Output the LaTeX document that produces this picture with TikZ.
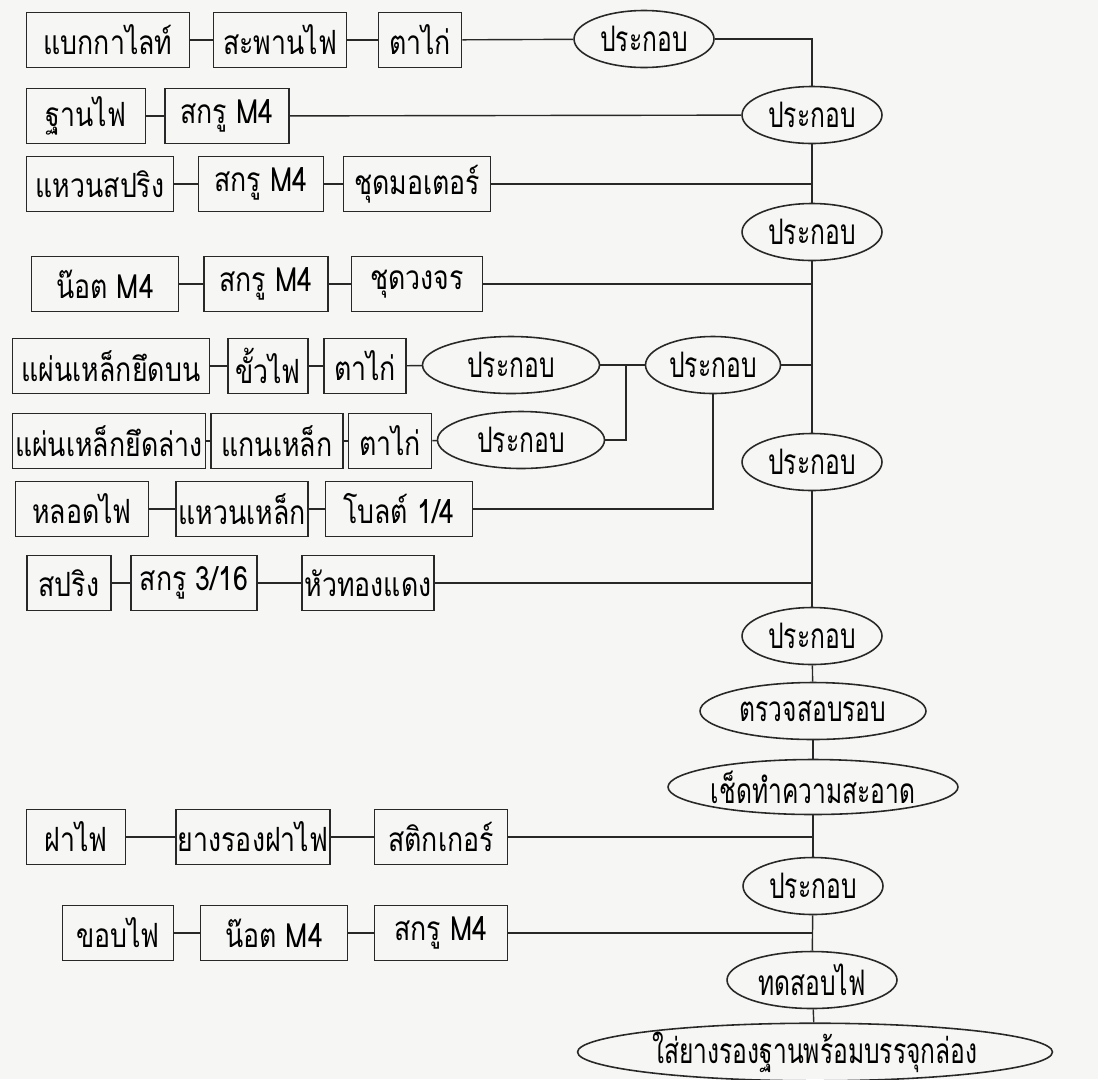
\documentclass[tikz,border=0pt]{standalone}
\usepackage{fontspec}
\usepackage{tikz}
\usetikzlibrary{shapes.geometric, positioning, calc}
\newfontfamily\thaifont[Script=Thai, FakeStretch=0.8]{Loma}
\newfontfamily\thainarrow[Script=Thai, FakeStretch=0.7]{Loma}
\definecolor{mydark}{RGB}{40,40,40}
\definecolor{mypaper}{RGB}{246,246,244}
\tikzset{
  part/.style={rectangle, draw=mydark, inner sep=0pt,
    minimum height=1.1cm, font=\thaifont\fontsize{19}{21}\selectfont,
    line width=0.9pt},
  asm/.style={ellipse, draw=mydark, inner sep=0pt,
    minimum height=1.14cm, minimum width=2.8cm,
    font=\thainarrow\fontsize{20}{22}\selectfont, line width=0.9pt},
  link/.style={line width=0.8pt, color=mydark}
}
\begin{document}
\begin{tikzpicture}[x=0.02cm, y=-0.02cm]
  \fill[mypaper] (0,0) rectangle (1098,1079);
  \useasboundingbox (0,0) rectangle (1098,1079);

  % main assembly line
  \node[asm] (e1) at (644, 39) {ประกอบ};
  \node[asm] (e2) at (812, 115) {ประกอบ};
  \node[asm] (e3) at (812, 232) {ประกอบ};
  \node[asm] (e4) at (812, 462) {ประกอบ};
  \node[asm] (e8) at (812, 636) {ประกอบ};
  \node[asm, minimum width=4.52cm] (chk) at (813, 711) {ตรวจสอบรอบ};
  \node[asm, minimum width=5.8cm, minimum height=1.1cm] (clean) at (813, 787) {เช็ดทำความสะอาด};
  \node[asm] (e11) at (813, 886) {ประกอบ};
  \node[asm, minimum width=3.4cm] (test) at (812, 980) {ทดสอบไฟ};
  \node[asm, minimum width=9.5cm, minimum height=1.02cm] (pack) at (815, 1052) {ใส่ยางรองฐานพร้อมบรรจุกล่อง};

  % row 1
  \node[part, minimum width=3.26cm] (r1a) at (108, 40) {แบกกาไลท์};
  \node[part, minimum width=2.66cm] (r1b) at (280, 40) {สะพานไฟ};
  \node[part, minimum width=1.66cm] (r1c) at (420, 40) {ตาไก่};

  % row 2
  \node[part, minimum width=2.38cm] (r2a) at (86, 116) {ฐานไฟ};
  \node[part, minimum width=2.48cm] (r2b) at (227, 116) {สกรู M4};

  % row 3
  \node[part, minimum width=2.94cm] (r3a) at (100, 184) {แหวนสปริง};
  \node[part, minimum width=2.5cm] (r3b) at (261, 184) {สกรู M4};
  \node[part, minimum width=2.94cm] (r3c) at (417, 184) {ชุดมอเตอร์};

  % row 4
  \node[part, minimum width=2.94cm] (r4a) at (105, 284) {น๊อต M4};
  \node[part, minimum width=2.48cm] (r4b) at (266, 284) {สกรู M4};
  \node[part, minimum width=2.62cm] (r4c) at (417, 284) {ชุดวงจร};

  % row 5 and 6 (sub assembly)
  \node[part, minimum width=3.94cm] (r5a) at (111, 366) {แผ่นเหล็กยึดบน};
  \node[part, minimum width=1.6cm] (r5b) at (268, 366) {ขั้วไฟ};
  \node[part, minimum width=1.64cm] (r5c) at (365, 366) {ตาไก่};
  \node[asm, minimum width=3.54cm] (e5) at (511, 365) {ประกอบ};
  \node[asm, minimum width=2.7cm] (e6) at (713, 365) {ประกอบ};
  \coordinate (j1) at (626, 365);

  \node[part, minimum width=3.86cm] (r6a) at (109, 441) {แผ่นเหล็กยึดล่าง};
  \node[part, minimum width=2.64cm] (r6b) at (277, 441) {แกนเหล็ก};
  \node[part, minimum width=1.66cm] (r6c) at (390, 441) {ตาไก่};
  \node[asm, minimum width=3.34cm] (e7) at (521, 440) {ประกอบ};

  % row 7
  \node[part, minimum width=2.66cm] (r7a) at (82, 509) {หลอดไฟ};
  \node[part, minimum width=2.64cm] (r7b) at (242, 509) {แหวนเหล็ก};
  \node[part, minimum width=2.94cm] (r7c) at (399, 509) {โบลต์ 1/4};

  % row 8
  \node[part, minimum width=1.68cm] (r8a) at (69, 583) {สปริง};
  \node[part, minimum width=2.52cm] (r8b) at (194, 583) {สกรู 3/16};
  \node[part, minimum width=2.64cm] (r8c) at (368, 583) {หัวทองแดง};

  % row 9
  \node[part, minimum width=1.98cm] (r9a) at (76, 837) {ฝาไฟ};
  \node[part, minimum width=3.08cm] (r9b) at (253, 837) {ยางรองฝาไฟ};
  \node[part, minimum width=2.66cm] (r9c) at (441, 837) {สติกเกอร์};

  % row 10
  \node[part, minimum width=2.22cm] (r10a) at (118, 933) {ขอบไฟ};
  \node[part, minimum width=2.94cm] (r10b) at (274, 933) {น๊อต M4};
  \node[part, minimum width=2.66cm] (r10c) at (441, 933) {สกรู M4};

  % Connections
  \draw[link] (r1a) -- (r1b);
  \draw[link] (r1b) -- (r1c);
  \draw[link] (r1c) -- (e1);
  \draw[link] (e1.east) -| (e2.north);

  \draw[link] (r2a) -- (r2b);
  \draw[link] (r2b) -- (e2);

  \draw[link] (r3a) -- (r3b);
  \draw[link] (r3b) -- (r3c);
  \draw[link] (r3c.east) -- (r3c.east -| e2.south);

  \draw[link] (r4a) -- (r4b);
  \draw[link] (r4b) -- (r4c);
  \draw[link] (r4c.east) -- (r4c.east -| e3.south);

  \draw[link] (r5a) -- (r5b);
  \draw[link] (r5b) -- (r5c);
  \draw[link] (r5c) -- (e5);
  \draw[link] (e5) -- (e6);
  \draw[link] (e6.east) -- (e6.east -| e3.south);

  \draw[link] (r6a) -- (r6b);
  \draw[link] (r6b) -- (r6c);
  \draw[link] (r6c) -- (e7);
  \draw[link] (e7.east) -| (j1);

  \draw[link] (r7a) -- (r7b);
  \draw[link] (r7b) -- (r7c);
  \draw[link] (r7c.east) -| (e6.south);

  \draw[link] (r8a) -- (r8b);
  \draw[link] (r8b) -- (r8c);
  \draw[link] (r8c.east) -- (r8c.east -| e4.south);

  \draw[link] (r9a) -- (r9b);
  \draw[link] (r9b) -- (r9c);
  \draw[link] (r9c.east) -- (r9c.east -| clean.south);

  \draw[link] (r10a) -- (r10b);
  \draw[link] (r10b) -- (r10c);
  \draw[link] (r10c.east) -- (r10c.east -| e11.south);

  \draw[link] (e2) -- (e3);
  \draw[link] (e3) -- (e4);
  \draw[link] (e4) -- (e8);
  \draw[link] (e8) -- (chk);
  \draw[link] (chk) -- (clean);
  \draw[link] (clean) -- (e11);
  \draw[link] (e11) -- (test);
  \draw[link] (test) -- (pack);
\end{tikzpicture}
\end{document}
